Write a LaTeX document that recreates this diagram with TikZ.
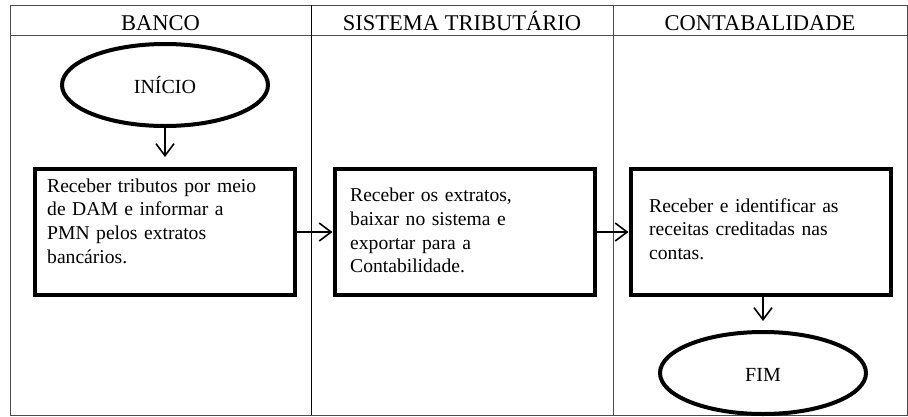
\documentclass[tikz,border=0pt]{standalone}
\usepackage{fontspec}
\setmainfont{Liberation Serif}
\usetikzlibrary{shapes.geometric,arrows.meta}
\begin{document}
\begin{tikzpicture}[x=1pt,y=-1pt,
  grid/.style={draw=black!70, line width=1pt},
  header/.style={font=\fontsize{22.5}{26}\selectfont, anchor=base, inner sep=0pt},
  proc/.style={draw, line width=4pt, rectangle, minimum width=260pt, minimum height=126pt, inner sep=0pt},
  ptext/.style={anchor=base west, inner sep=0pt, align=left, text width=236pt,
     font=\fontsize{19.6}{23.8}\selectfont},
  term/.style={draw, ellipse, line width=4pt, font=\fontsize{20}{24}\selectfont,
     minimum width=206pt, minimum height=82pt, inner sep=0pt, text height=17pt, text depth=0pt},
  flow/.style={-{Straight Barb[length=12pt,width=18pt,line width=1.6pt]}, line width=1.6pt}
]
\useasboundingbox (0,0) rectangle (908,416);
% table
\draw[grid] (10,5) rectangle (907,415);
\draw[grid] (10,35) -- (907,35);
\draw[draw=black, line width=0.9pt] (311,5) -- (311,415);
\draw[grid] (613,5) -- (613,415);
% headers
\node[header] (h1) at (160.5,30) {BANCO};
\node[header] (h2) at (462,30) {SISTEMA TRIBUTÁRIO};
\node[header] (h3) at (760,30) {CONTABALIDADE};
% nodes
\node[term] (ini) at (165,85) {INÍCIO};
\node[proc] (b1) at (165,232) {};
\node[proc] (b2) at (464.5,232) {};
\node[proc] (b3) at (760.5,232) {};
\node[ptext] (t1) at (47,192)
  {Receber tributos por meio\\de DAM e informar a\\PMN pelos extratos\\bancários.};
\node[ptext] (t2) at (350,201.5)
  {Receber os extratos,\\baixar no sistema e\\exportar para a\\Contabilidade.};
\node[ptext] (t3) at (649,212)
  {Receber e identificar as\\receitas creditadas nas\\contas.};
\node[term] (fim) at (763,373) {FIM};
% connectors
\draw[flow, shorten >=10pt] (ini.south) -- (ini.south |- b1.north);
\draw[flow] (b1.east) -- (b2.west);
\draw[flow] (b2.east) -- (b3.west);
\draw[flow, shorten >=9pt] (fim.north |- b3.south) -- (fim.north);
\end{tikzpicture}
\end{document}
